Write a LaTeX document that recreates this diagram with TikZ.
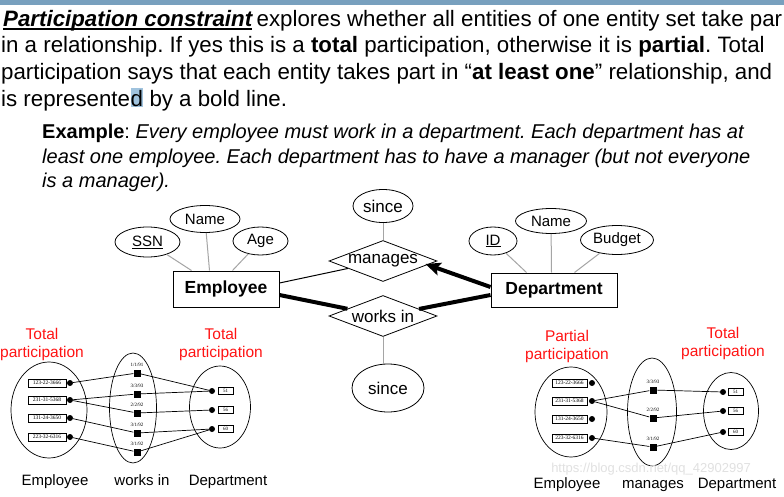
\documentclass[tikz,border=0pt]{standalone}
\usepackage{fontspec}
\setmainfont{Liberation Sans}
\newfontfamily\smallserif{Liberation Serif}
\usetikzlibrary{shapes.geometric,arrows.meta,calc}
\definecolor{barblue}{RGB}{120,160,190}
\definecolor{hlblue}{RGB}{160,195,222}
\definecolor{attrgray}{RGB}{165,165,165}
\definecolor{partred}{RGB}{255,20,20}
\definecolor{wmgray}{RGB}{225,225,225}
\frenchspacing
\begin{document}
\begin{tikzpicture}[x=1pt,y=-1pt,
  txt/.style={anchor=base west, inner sep=0pt, font=\fontsize{22.3}{26}\selectfont},
  extxt/.style={anchor=base west, inner sep=0pt, font=\fontsize{20}{24}\selectfont},
  attr/.style={ellipse, draw, line width=0.8pt, inner sep=0pt, font=\fontsize{15}{18}\selectfont},
  ent/.style={rectangle, draw, line width=1pt, inner sep=0pt, font=\bfseries\fontsize{17.5}{20}\selectfont},
  rel/.style={diamond, draw, line width=0.8pt, inner sep=0pt, aspect=2.7, font=\fontsize{17}{20}\selectfont},
  attrline/.style={draw=attrgray, line width=1pt},
  thinline/.style={draw=black, line width=1pt},
  boldline/.style={draw=black, line width=4pt},
  redlbl/.style={text=partred, align=center, inner sep=0pt, font=\fontsize{15.5}{18}\selectfont},
  botlbl/.style={anchor=base, inner sep=0pt, font=\fontsize{15}{18}\selectfont},
  setell/.style={ellipse, draw, line width=0.7pt, inner sep=0pt},
  idbox/.style={rectangle, draw, line width=0.6pt, inner sep=0pt, minimum height=8pt, font=\smallserif\fontsize{5.5}{6}\selectfont},
  numbox/.style={rectangle, draw, line width=0.6pt, inner sep=0pt, minimum height=7pt, minimum width=15pt, font=\smallserif\fontsize{5}{6}\selectfont},
  dotnode/.style={circle, fill=black, inner sep=0pt, minimum size=6pt},
  sqnode/.style={rectangle, fill=black, inner sep=0pt, minimum size=7pt},
  datelbl/.style={inner sep=0pt, font=\smallserif\fontsize{5}{6}\selectfont},
  inst/.style={draw=black, line width=0.7pt},
]
\useasboundingbox (0,0) rectangle (784,497);
\fill[white] (0,0) rectangle (784,497);
\fill[barblue] (0,0) rectangle (784,5);

% ---------- top text ----------
\node[txt, font=\bfseries\itshape\fontsize{22.3}{26}\selectfont] (pc) at (3,26.5) {Participation constraint};
\draw[line width=1.4pt] ($(pc.base west)+(0,2.6)$) -- ($(pc.base east)+(0,2.6)$);
\node[txt] (l1) at ($(pc.base east)+(4,0)$) {explores whether all entities of one entity set take par};
\node[txt] (l2) at (1,53) {in a relationship. If yes this is a \textbf{total} participation, otherwise it is \textbf{partial}. Total};
\node[txt] (l3) at (1,79.7) {participation says that each entity takes part in “\textbf{at least one}” relationship, and};
\node[txt] (l4a) at (1,106.3) {is represente};
\node[txt, fill=hlblue, text height=18pt, text depth=1pt] (l4d) at (l4a.base east) {d};
\node[txt] (l4b) at (l4d.base east) {\ by a bold line.};

\node[extxt] (ex1) at (42,139) {\textbf{Example}: \textit{Every employee must work in a department. Each department has at}};
\node[extxt] (ex2) at (42,164) {\textit{least one employee. Each department has to have a manager (but not everyone}};
\node[extxt] (ex3) at (42,188) {\textit{is a manager).}};

% ---------- ER diagram ----------
\node[ent, minimum width=106pt, minimum height=36pt] (emp) at (226,289) {Employee};
\node[ent, minimum width=126pt, minimum height=34pt] (dept) at (554,290) {Department};
\node[rel, minimum width=108pt, minimum height=41pt] (man) at (383,261) {manages};
\node[rel, minimum width=108pt, minimum height=41pt] (wi) at (383,316) {works in};
\node[attr, minimum width=60pt, minimum height=33pt, font=\fontsize{17}{20}\selectfont] (since1) at (383,206) {since};
\node[attr, minimum width=72pt, minimum height=48pt, font=\fontsize{17}{20}\selectfont] (since2) at (388,388) {since};
\node[attr, minimum width=65pt, minimum height=30pt] (ssn) at (147.5,242) {\underline{SSN}};
\node[attr, minimum width=70pt, minimum height=27pt] (ename) at (205,219) {Name};
\node[attr, minimum width=55pt, minimum height=28pt] (age) at (260.5,241) {Age};
\node[attr, minimum width=48pt, minimum height=28pt] (id) at (493,241) {\underline{ID}};
\node[attr, minimum width=71pt, minimum height=25pt] (dname) at (551,221) {Name};
\node[attr, minimum width=73pt, minimum height=29pt] (budget) at (617,240) {Budget};

\draw[attrline] (ssn) -- ($(emp.north west)+(19,0)$);
\draw[attrline] (ename) -- ($(emp.north west)+(37,0)$);
\draw[attrline] (age) -- ($(emp.north west)+(60,0)$);
\draw[attrline] (id) -- ($(dept.north west)+(36,0)$);
\draw[attrline] (dname) -- ($(dept.north west)+(61,0)$);
\draw[attrline] (budget) -- ($(dept.north west)+(84,0)$);
\draw[attrline] (since1) -- (man);
\draw[attrline] (wi.south) -- (wi.south |- since2.north);

\draw[thinline] ($(emp.east)+(0,-6)$) -- (man);
\draw[boldline] ($(emp.east)+(0,6)$) -- (wi);
\draw[boldline, -{Stealth[length=15pt,width=13pt,inset=3pt]}] ($(dept.west)+(0,-3)$) -- ($(man.east)+(-12,3)$);
\draw[boldline] ($(dept.west)+(0,5)$) -- (wi);

% ---------- left instance diagram ----------
\node[redlbl] (tl1) at (42,344) {Total\\participation};
\node[redlbl] (tl2) at (221,344) {Total\\participation};
\node[setell, minimum width=76pt, minimum height=96pt] (E1) at (49,410) {};
\node[setell, minimum width=47pt, minimum height=110pt] (W1) at (133,408) {};
\node[setell, minimum width=61pt, minimum height=82pt] (D1) at (220,407) {};
\foreach \y/\t [count=\i] in {383/123-22-3666, 400/231-31-5368, 418/131-24-3650, 437/223-32-6316} {
  \node[idbox, minimum width=38pt] (ea\i) at (47,\y) {\t};
  \node[dotnode] (pa\i) at (70,\y) {};
}
\node[sqnode] (sa1) at (137,373) {};
\node[sqnode] (sa2) at (137,394) {};
\node[sqnode] (sa3) at (137,413) {};
\node[sqnode] (sa4) at (137,433) {};
\node[sqnode] (sa5) at (137,452) {};
\node[datelbl] (da1) at (137,365) {1/1/91};
\node[datelbl] (da2) at (137,386) {3/3/93};
\node[datelbl] (da3) at (137,405) {2/2/92};
\node[datelbl] (da4) at (137,425) {3/1/92};
\node[datelbl] (da5) at (137,444) {3/1/92};
\foreach \y/\t [count=\i] in {391/51, 410/56, 429/60} {
  \node[dotnode] (qa\i) at (212,\y) {};
  \node[numbox] (na\i) at (225.5,\y) {\t};
}
\draw[inst] (pa1) -- (sa1);
\draw[inst] (pa2) -- (sa2);
\draw[inst] (pa2) -- (sa3);
\draw[inst] (pa3) -- (sa4);
\draw[inst] (pa4) -- (sa5);
\draw[inst] (sa1) -- (qa1);
\draw[inst] (sa2) -- (qa1);
\draw[inst] (sa3) -- (qa2);
\draw[inst] (sa4) -- (qa3);
\draw[inst] (sa5) -- (qa3);
\node[botlbl] (b1) at (55,485) {Employee};
\node[botlbl] (b2) at (142,485) {works in};
\node[botlbl] (b3) at (228,485) {Department};

% ---------- right instance diagram ----------
\node[redlbl] (pl1) at (567,346) {Partial\\participation};
\node[redlbl] (tl3) at (723,343) {Total\\participation};
\node[setell, minimum width=72pt, minimum height=90pt] (E2) at (571,412) {};
\node[setell, minimum width=49pt, minimum height=108pt] (M2) at (652,412) {};
\node[setell, minimum width=55pt, minimum height=77pt] (D2) at (731,411) {};
\foreach \y/\t [count=\i] in {383/123-22-3666, 401/231-31-5368, 419/131-24-3650, 438/223-32-6316} {
  \node[idbox, minimum width=35pt] (eb\i) at (569.5,\y) {\t};
  \node[dotnode] (pb\i) at (592,\y) {};
}
\node[sqnode] (sb1) at (653,390) {};
\node[sqnode] (sb2) at (653,418) {};
\node[sqnode] (sb3) at (653,447) {};
\node[datelbl] (db1) at (653,382) {3/3/93};
\node[datelbl] (db2) at (653,410) {2/2/92};
\node[datelbl] (db3) at (653,439) {3/1/92};
\foreach \y/\t [count=\i] in {392/51, 411/56, 432/60} {
  \node[dotnode] (qb\i) at (723,\y) {};
  \node[numbox] (nb\i) at (735.5,\y) {\t};
}
\draw[inst] (pb2) -- (sb1);
\draw[inst] (pb2) -- (sb2);
\draw[inst] (pb4) -- (sb3);
\draw[inst] (sb1) -- (qb1);
\draw[inst] (sb2) -- (qb2);
\draw[inst] (sb3) -- (qb3);
\node[font=\fontsize{13}{15}\selectfont, text=wmgray, inner sep=0pt] (wm) at (651,469) {https://blog.csdn.net/qq\_42902997};
\node[botlbl] (c1) at (567,488) {Employee};
\node[botlbl] (c2) at (653,488) {manages};
\node[botlbl] (c3) at (737,488) {Department};
\end{tikzpicture}
\end{document}
